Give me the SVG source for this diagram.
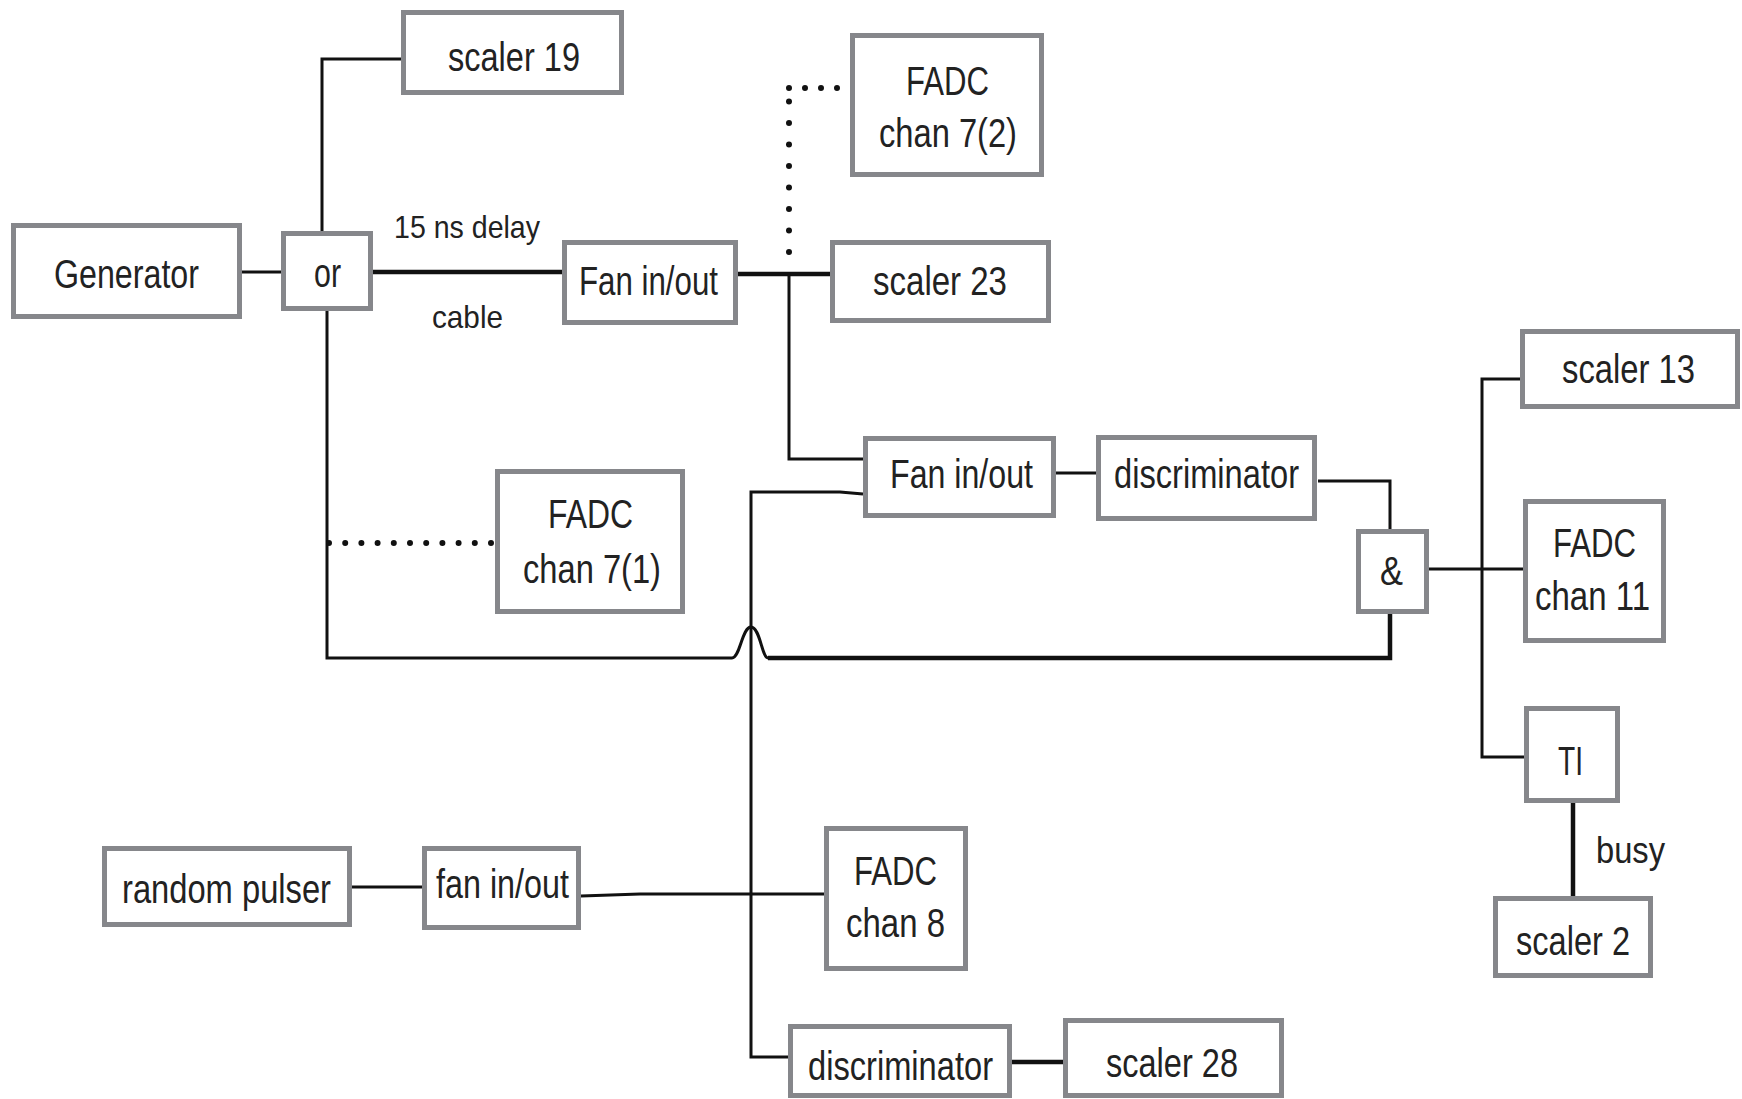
<svg xmlns="http://www.w3.org/2000/svg" width="1742" height="1099" viewBox="0 0 1742 1099">
<style>
.box{fill:#fff;stroke:#86878b;stroke-width:5}
.lbl{font-family:"Liberation Sans",Arial,sans-serif;font-size:41px;fill:#222;lengthAdjust:spacingAndGlyphs}
.sm{font-size:32px}
.w{fill:none;stroke:#111;stroke-width:3}
.t{fill:none;stroke:#111;stroke-width:4.5}
.dot{fill:none;stroke:#111;stroke-width:6;stroke-linecap:round}
</style>
<rect width="1742" height="1099" fill="#fff"/>
<g id="connectors">
<path class="w" d="M242 272H283"/>
<path class="w" d="M322 233V59H401"/>
<path class="t" d="M373 272H562"/>
<path class="w" d="M327 311V658H732C740 658 742 627 751 627C760 627 762 658 768 658"/>
<path class="t" d="M768 658H1390V614"/>
<path class="t" d="M738 274H830"/>
<path class="w" d="M789 274V459H863"/>
<path class="dot" d="M789 252V88" stroke-dasharray="0 21.5"/>
<path class="dot" d="M789 88H848" stroke-dasharray="0 16"/>
<path class="dot" d="M329 543H495" stroke-dasharray="0 16.2"/>
<path class="w" d="M863 494L840 492H751V1057H788"/>
<path class="w" d="M1056 473H1096"/>
<path class="w" d="M1318 481H1390V531"/>
<path class="w" d="M1429 569H1523"/>
<path class="w" d="M1520 379H1482V757H1524"/>
<path class="t" d="M1573 803V896"/>
<path class="w" d="M352 887H422"/>
<path class="w" d="M581 896L640 894H824"/>
<path class="t" d="M1012 1062H1063"/>
<text class="lbl sm" x="394" y="238" textLength="146" lengthAdjust="spacingAndGlyphs">15 ns delay</text>
<text class="lbl sm" x="432" y="328" textLength="71" lengthAdjust="spacingAndGlyphs">cable</text>
<text class="lbl" x="1596" y="863" textLength="69" lengthAdjust="spacingAndGlyphs" style="font-size:36px">busy</text>
</g>
<g id="generator"><rect class="box" x="13.5" y="225.5" width="226" height="91"/><text class="lbl" x="54" y="288" textLength="145" lengthAdjust="spacingAndGlyphs">Generator</text></g>
<g id="or"><rect class="box" x="283.5" y="233.5" width="87" height="75"/><text class="lbl" x="314" y="287" textLength="27" lengthAdjust="spacingAndGlyphs">or</text></g>
<g id="scaler19"><rect class="box" x="403.5" y="12.5" width="218" height="80"/><text class="lbl" x="448" y="71" textLength="132" lengthAdjust="spacingAndGlyphs">scaler 19</text></g>
<g id="fan1"><rect class="box" x="564.5" y="242.5" width="171" height="80"/><text class="lbl" x="579" y="295" textLength="139" lengthAdjust="spacingAndGlyphs">Fan in/out</text></g>
<g id="fadc72"><rect class="box" x="852.5" y="35.5" width="189" height="139"/><text class="lbl" x="906" y="95" textLength="83" lengthAdjust="spacingAndGlyphs">FADC</text><text class="lbl" x="879" y="147" textLength="138" lengthAdjust="spacingAndGlyphs">chan 7(2)</text></g>
<g id="scaler23"><rect class="box" x="832.5" y="242.5" width="216" height="78"/><text class="lbl" x="873" y="295" textLength="134" lengthAdjust="spacingAndGlyphs">scaler 23</text></g>
<g id="scaler13"><rect class="box" x="1522.5" y="331.5" width="215" height="75"/><text class="lbl" x="1562" y="383" textLength="133" lengthAdjust="spacingAndGlyphs">scaler 13</text></g>
<g id="fan2"><rect class="box" x="865.5" y="438.5" width="188" height="77"/><text class="lbl" x="890" y="488" textLength="143" lengthAdjust="spacingAndGlyphs">Fan in/out</text></g>
<g id="disc1"><rect class="box" x="1098.5" y="437.5" width="216" height="81"/><text class="lbl" x="1114" y="488" textLength="185" lengthAdjust="spacingAndGlyphs">discriminator</text></g>
<g id="and"><rect class="box" x="1358.5" y="531.5" width="68" height="80"/><text class="lbl" x="1380" y="585" textLength="23" lengthAdjust="spacingAndGlyphs">&amp;</text></g>
<g id="fadc11"><rect class="box" x="1525.5" y="501.5" width="138" height="139"/><text class="lbl" x="1553" y="557" textLength="83" lengthAdjust="spacingAndGlyphs">FADC</text><text class="lbl" x="1535" y="610" textLength="115" lengthAdjust="spacingAndGlyphs">chan 11</text></g>
<g id="fadc71"><rect class="box" x="497.5" y="471.5" width="185" height="140"/><text class="lbl" x="548" y="528" textLength="85" lengthAdjust="spacingAndGlyphs">FADC</text><text class="lbl" x="523" y="583" textLength="138" lengthAdjust="spacingAndGlyphs">chan 7(1)</text></g>
<g id="ti"><rect class="box" x="1526.5" y="708.5" width="91" height="92"/><text class="lbl" x="1558" y="775" textLength="25" lengthAdjust="spacingAndGlyphs">TI</text></g>
<g id="scaler2"><rect class="box" x="1495.5" y="898.5" width="155" height="77"/><text class="lbl" x="1516" y="955" textLength="114" lengthAdjust="spacingAndGlyphs">scaler 2</text></g>
<g id="randompulser"><rect class="box" x="104.5" y="848.5" width="245" height="76"/><text class="lbl" x="122" y="903" textLength="209" lengthAdjust="spacingAndGlyphs">random pulser</text></g>
<g id="fan3"><rect class="box" x="424.5" y="848.5" width="154" height="79"/><text class="lbl" x="436" y="898" textLength="133" lengthAdjust="spacingAndGlyphs">fan in/out</text></g>
<g id="fadc8"><rect class="box" x="826.5" y="828.5" width="139" height="140"/><text class="lbl" x="854" y="885" textLength="83" lengthAdjust="spacingAndGlyphs">FADC</text><text class="lbl" x="846" y="937" textLength="99" lengthAdjust="spacingAndGlyphs">chan 8</text></g>
<g id="disc2"><rect class="box" x="790.5" y="1026.5" width="219" height="69"/><text class="lbl" x="808" y="1080" textLength="185" lengthAdjust="spacingAndGlyphs">discriminator</text></g>
<g id="scaler28"><rect class="box" x="1065.5" y="1020.5" width="216" height="75"/><text class="lbl" x="1106" y="1077" textLength="132" lengthAdjust="spacingAndGlyphs">scaler 28</text></g>
</svg>
